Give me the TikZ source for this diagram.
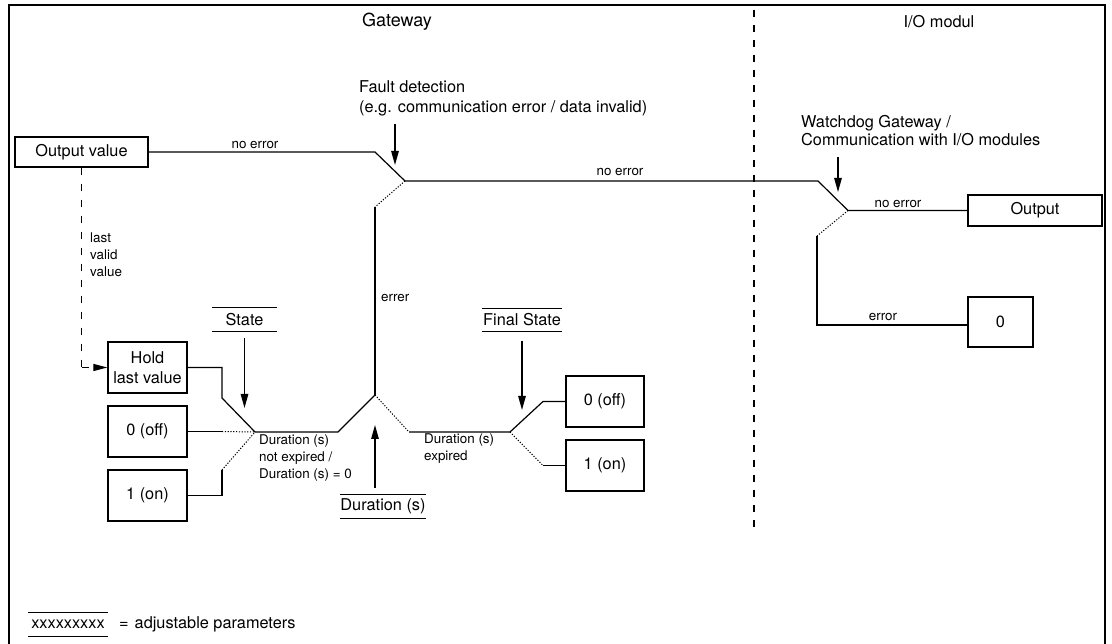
\documentclass[tikz,border=0pt]{standalone}
\usepackage{fontspec}
\setmainfont{TeX Gyre Heros}
\usetikzlibrary{arrows.meta}
\newcommand\mainsz{\fontsize{16.3}{20}\selectfont}
\newcommand\smallsz{\fontsize{13.4}{17}\selectfont}
\begin{document}
\begin{tikzpicture}[x=1pt,y=-1pt,
  every node/.style={inner sep=0pt, font=\mainsz},
  box/.style={draw, line width=1.3pt, align=center},
  wire/.style={line width=1.2pt},
  dots/.style={line width=1pt, dash pattern=on 1.2pt off 1.6pt},
  pointer/.style={line width=1.2pt, -{Triangle[length=14pt,width=7.5pt]}},
  param/.style={minimum height=23pt},
  small/.style={font=\smallsz, align=left},
  overline/.style={line width=1.1pt}]
\useasboundingbox (0,0) rectangle (1112,644);

% frame and divider
\draw[line width=1.5pt] (9,644) -- (9,5) -- (1105,5) -- (1105,644);
\draw[line width=1.3pt, dash pattern=on 7pt off 8pt] (754,10) -- (754,530);

% section titles
\node[font=\fontsize{18}{20}\selectfont] (gw) at (397,22) {Gateway};
\node (io) at (939,22) {I/O modul};

% boxes
\node[box, minimum width=133pt, minimum height=30pt] (outval) at (81.5,152) {Output value};
\node[box, minimum width=79pt, minimum height=51pt] (hold) at (147.5,367.5) {Hold\\last value};
\node[box, minimum width=79pt, minimum height=51pt] (offA) at (147.5,431.5) {0 (off)};
\node[box, minimum width=79pt, minimum height=51pt] (onA) at (147.5,495.5) {1 (on)};
\node[box, minimum width=78pt, minimum height=51pt] (offB) at (605,401.5) {0 (off)};
\node[box, minimum width=78pt, minimum height=51pt] (onB) at (605,465.5) {1 (on)};
\node[box, minimum width=134pt, minimum height=31pt] (outbox) at (1035,210.5) {Output};
\node[box, minimum width=65pt, minimum height=50pt] (zero) at (1000.5,322) {0};

% adjustable parameters (over- and underlined)
\node[param, minimum width=65pt] (state) at (244.5,319.5) {State};
\node[param, minimum width=80pt] (final) at (522,320) {Final State};
\node[param, minimum width=86pt] (dur) at (383,506.5) {Duration (s)};
\node[param, minimum width=80pt] (legend) at (68,624.5) {xxxxxxxxx};
\foreach \p in {state,final,dur,legend}
  \draw[overline] (\p.north west) -- (\p.north east) (\p.south west) -- (\p.south east);
\node[anchor=west] (legtxt) at (119,624) {=\hspace{6pt}adjustable parameters};

% switch points
\coordinate (s1a) at (375,152);
\coordinate (s1) at (405,181);
\coordinate (s1e) at (375,207);
\coordinate (j1) at (375,395);
\coordinate (j1l) at (338,432);
\coordinate (s2) at (255,432);
\coordinate (s2a) at (222,398);
\coordinate (s2h) at (222,367.5);
\coordinate (s2o) at (222,431.5);
\coordinate (s2n) at (222,470);
\coordinate (j1r) at (409,432);
\coordinate (s3) at (510,432);
\coordinate (s3a) at (543,401.5);
\coordinate (s3b) at (543,465.5);
\coordinate (s4a) at (818,181);
\coordinate (s4) at (848,210.5);
\coordinate (s4e) at (817,236);
\coordinate (s4z) at (817,325);

% fault detection switch
\draw[wire] (outval.east) -- (s1a) -- (s1) -- (s4a) -- (s4) -- (outbox.west);
\draw[dots] (s1) -- (s1e);
\draw[wire] (s1e) -- (j1);

% state switch
\draw[wire] (j1) -- (j1l) -- (s2) -- (s2a) -- (s2h) -- (hold.east);
\draw[wire] (offA.east) -- (s2o);
\draw[dots] (s2o) -- (s2);
\draw[wire] (onA.east -| s2n) coordinate (s2d) (onA.east) -- (s2d) -- (s2n);
\draw[dots] (s2n) -- (s2);

% final state switch
\draw[dots] (j1) -- (j1r);
\draw[wire] (j1r) -- (s3) -- (s3a) -- (offB.west);
\draw[dots] (s3) -- (s3b);
\draw[wire] (s3b) -- (onB.west);

% watchdog switch
\draw[dots] (s4) -- (s4e);
\draw[wire] (s4e) -- (s4z) -- (zero.west |- s4z);

% last valid value path
\draw[line width=1.2pt, dash pattern=on 7pt off 9pt] (outval.south) -- (outval.south |- hold.west) coordinate (lv);
\draw[line width=1.2pt, dash pattern=on 7pt off 9pt, -{Triangle[length=14pt,width=7pt]}] (lv) -- (hold.west);

% pointers
\node[anchor=west, align=left, font=\fontsize{16.3}{20}\selectfont] (fault) at (359,98) {Fault detection\\(e.g. communication error / data invalid)};
\coordinate (faultp) at (395,124);
\draw[pointer] (faultp) -- (395,165);
\node[anchor=west, align=left, font=\fontsize{16.3}{18}\selectfont] (wd) at (801,131) {Watchdog Gateway /\\Communication with I/O modules};
\coordinate (wdp) at (838,157);
\draw[pointer] (wdp) -- (838,192);
\draw[pointer] ([yshift=-7pt]state.south) -- (244.5,408);
\draw[pointer] ([yshift=-9pt]final.south) -- (522,410);
\draw[pointer] ([xshift=-8pt,yshift=7pt]dur.north) -- (375,425);

% connector labels
\node[small] (l1) at (255,145) {no error};
\node[small] (l2) at (620,172) {no error};
\node[small] (l3) at (898,204) {no error};
\node[small] (l4) at (883,317) {error};
\node[small, anchor=west] (l5) at (381,298) {errer};
\node[small, anchor=west] (l6) at (90,255) {last\\valid\\value};
\node[small, anchor=west] (l7) at (259,458) {Duration (s)\\not expired /\\Duration (s) = 0};
\node[small, anchor=west] (l8) at (424,449) {Duration (s)\\expired};
\end{tikzpicture}
\end{document}
